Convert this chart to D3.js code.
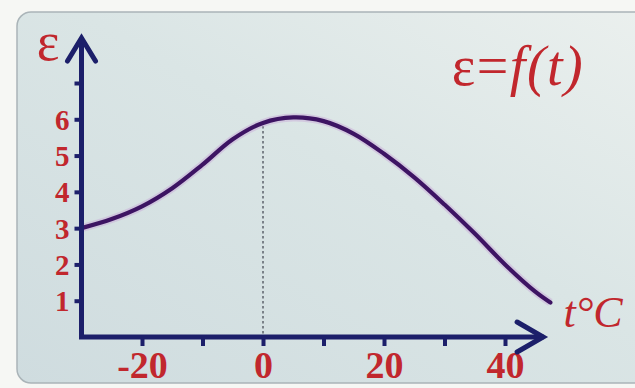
<!DOCTYPE html>
<html>
<head>
<meta charset="utf-8">
<script src="https://cdn.jsdelivr.net/npm/d3@7/dist/d3.min.js"></script>
<style>
  html, body { margin: 0; padding: 0; background: #f6f7f4; }
  svg { display: block; }
  text { font-family: "Liberation Serif", "DejaVu Serif", serif; }
</style>
</head>
<body>
<svg id="chart" width="635" height="388"></svg>
<script>
// Temperature (°C) and the quantity ε = f(t)
const temps  = [-30, -25, -20, -15, -10, -5, 0, 5, 10, 15, 20, 25, 30, 35, 40, 45, 47.5];
const values = [3.0, 3.25, 3.6, 4.1, 4.75, 5.45, 5.9, 6.05, 5.95, 5.6, 5.05, 4.4, 3.65, 2.85, 2.0, 1.25, 0.95];

const xTicks = [-20, -10, 0, 10, 20, 30, 40];
const xLabels = [-20, 0, 20, 40];
const yTicks = [1, 2, 3, 4, 5, 6, 7];
const yLabels = [1, 2, 3, 4, 5, 6];

const svg = d3.select("#chart");
const RED = "#c1272d", NAVY = "#1c1f6a", CURVE = "#3d1463";

// panel background
const defs = svg.append("defs");
const grad = defs.append("linearGradient").attr("id", "panelFill")
  .attr("x1", "0").attr("y1", "1").attr("x2", "1").attr("y2", "0");
grad.append("stop").attr("offset", "0").attr("stop-color", "#cfdcdf");
grad.append("stop").attr("offset", "0.55").attr("stop-color", "#dae5e5");
grad.append("stop").attr("offset", "1").attr("stop-color", "#ebf0ee");

svg.append("rect").attr("width", 635).attr("height", 388).attr("fill", "#f6f7f4");
svg.append("rect")
  .attr("x", 17).attr("y", 12).attr("width", 640).attr("height", 371)
  .attr("rx", 14)
  .attr("fill", "url(#panelFill)")
  .attr("stroke", "#aab4b8").attr("stroke-width", 1.5);

const x = d3.scaleLinear().domain([-30, 40]).range([81.5, 505]);
const y = d3.scaleLinear().domain([0, 7]).range([337, 83]);

// dashed guide at t = 0
const i0 = temps.indexOf(0);
svg.append("line")
  .attr("x1", x(0)).attr("x2", x(0))
  .attr("y1", y(values[i0]) + 3).attr("y2", y(0))
  .attr("stroke", "#5c616b").attr("stroke-width", 1.5)
  .attr("stroke-dasharray", "2.5,2.5");

// curve
const line = d3.line()
  .x((d, i) => x(temps[i]))
  .y(d => y(d))
  .curve(d3.curveCatmullRom.alpha(0.5));

svg.append("path").datum(values)
  .attr("d", line).attr("fill", "none")
  .attr("stroke", "#c8a6d6").attr("stroke-width", 8).attr("stroke-opacity", 0.45);
svg.append("path").datum(values)
  .attr("d", line).attr("fill", "none")
  .attr("stroke", CURVE).attr("stroke-width", 4.2)
  .attr("stroke-linecap", "round");

// x axis ticks + labels
const xAxis = d3.axisBottom(x)
  .tickValues(xTicks)
  .tickSize(9)
  .tickFormat(d => xLabels.includes(d) ? d : "");
const gx = svg.append("g").attr("transform", `translate(0,${y(0)})`).call(xAxis);
gx.select(".domain").remove();
gx.selectAll(".tick line").attr("stroke", NAVY).attr("stroke-width", 4);
gx.selectAll(".tick text")
  .attr("fill", RED).attr("font-size", 38).attr("font-weight", "bold")
  .attr("font-family", "Liberation Serif, serif")
  .attr("y", 14).attr("dy", "0.71em");

// y axis ticks + labels
const yAxis = d3.axisLeft(y)
  .tickValues(yTicks)
  .tickSize(7)
  .tickFormat(d => yLabels.includes(d) ? d : "");
const gy = svg.append("g").attr("transform", `translate(${x(-30)},0)`).call(yAxis);
gy.select(".domain").remove();
gy.selectAll(".tick line").attr("stroke", NAVY).attr("stroke-width", 4);
gy.selectAll(".tick text")
  .attr("fill", RED).attr("font-size", 29).attr("font-weight", "bold")
  .attr("font-family", "Liberation Serif, serif")
  .attr("x", -12).attr("dy", "0.34em");

// axis lines with arrow heads
const x0 = x(-30), yb = y(0);
const xTip = x(46.3), yTip = 38;
const axes = svg.append("g").attr("stroke", NAVY).attr("fill", "none")
  .attr("stroke-width", 5).attr("stroke-linecap", "square").attr("stroke-linejoin", "miter");
axes.append("path").attr("d", `M${x0},${yTip + 2} L${x0},${yb} L${xTip - 2},${yb}`);
axes.append("path").attr("stroke-linecap", "round")
  .attr("d", `M${x0 - 14},${yTip + 23} L${x0},${yTip} L${x0 + 14},${yTip + 23}`);
axes.append("path").attr("stroke-linecap", "round")
  .attr("d", `M${xTip - 26},${yb - 15} L${xTip},${yb} L${xTip - 26},${yb + 15}`);

// axis names
svg.append("text").attr("x", 48).attr("y", 60)
  .attr("text-anchor", "middle").attr("fill", RED)
  .attr("font-size", 54).text("ε");

svg.append("text").attr("x", 593).attr("y", 327)
  .attr("text-anchor", "middle").attr("fill", RED)
  .attr("font-size", 44).attr("font-style", "italic").text("t°C");

// formula
const f = svg.append("text").attr("x", 518).attr("y", 85)
  .attr("text-anchor", "middle").attr("fill", RED)
  .attr("font-size", 56).attr("letter-spacing", 1.5);
f.append("tspan").text("ε=");
f.append("tspan").attr("font-style", "italic").text("f");
f.append("tspan").attr("font-style", "italic").text("(t)");
</script>
</body>
</html>
